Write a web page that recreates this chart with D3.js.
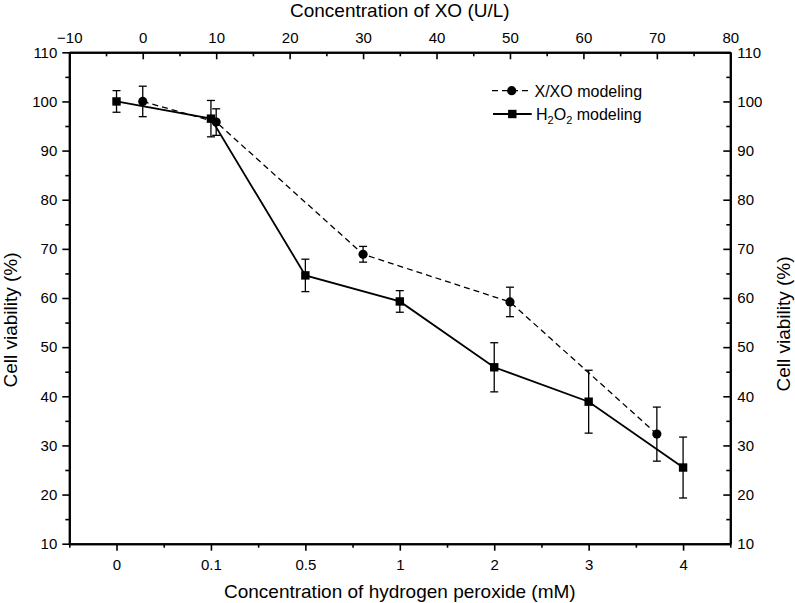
<!DOCTYPE html>
<html>
<head>
<meta charset="utf-8">
<script src="https://cdn.jsdelivr.net/npm/d3@7"></script>
<style>
  html, body { margin: 0; padding: 0; background: #fff; }
  svg { display: block; font-family: "Liberation Sans", Arial, sans-serif; }
</style>
</head>
<body>
<svg id="chart" width="795" height="603"></svg>
<script>
// ---- data ----
const categories = ["0", "0.1", "0.5", "1", "2", "3", "4"];           // H2O2 concentration (mM)
const h2o2Values = [100, 96.5, 64.6, 59.3, 45.9, 38.9, 25.5];
const h2o2Errors = [2.2, 3.7, 3.3, 2.2, 5.0, 6.4, 6.2];
const xoConc = [0, 10, 30, 50, 70];                                    // XO concentration (U/L)
const xoValues = [100, 95.8, 68.9, 59.2, 32.3];
const xoErrors = [3.1, 2.7, 1.6, 3.0, 5.5];
const yTicks = [10, 20, 30, 40, 50, 60, 70, 80, 90, 100, 110];
const topTicks = [-10, 0, 10, 20, 30, 40, 50, 60, 70, 80];
const legendLabels = ["X/XO modeling", "H2O2 modeling"];

// ---- layout ----
const L = 69.3, R = 730.3, T = 52.3, B = 543.7;
const svg = d3.select("#chart");

const y = d3.scaleLinear().domain([10, 110]).range([B, T]);
const xb = d3.scaleLinear().domain([-0.5, categories.length - 0.5]).range([L, R]);
const xt = d3.scaleLinear().domain([-10, 80]).range([L, R]);

const majorLen = 7, minorLen = 4;
const yMinor = d3.range(15, 110, 10);
const topMinor = d3.range(-5, 80, 10);
const bottomMinor = d3.range(-0.5, categories.length, 1);

function styleAxis(g) {
  g.select(".domain").attr("stroke", "#000").attr("stroke-width", 2);
  g.selectAll(".tick line").attr("stroke", "#000").attr("stroke-width", 1.6);
  g.selectAll(".tick text").attr("fill", "#000").style("font-size", "15px")
    .style("font-family", '"Liberation Sans", Arial, sans-serif');
}

// left axis (outward)
svg.append("g").attr("transform", `translate(${L},0)`)
  .call(d3.axisLeft(y).tickValues(yMinor).tickSize(minorLen).tickFormat("").tickSizeOuter(0)).call(styleAxis);
svg.append("g").attr("transform", `translate(${L},0)`)
  .call(d3.axisLeft(y).tickValues(yTicks).tickSize(majorLen).tickPadding(5).tickSizeOuter(0)).call(styleAxis);

// right axis (inward)
svg.append("g").attr("transform", `translate(${R},0)`)
  .call(d3.axisRight(y).tickValues(yMinor).tickSize(-minorLen).tickFormat("").tickSizeOuter(0)).call(styleAxis);
svg.append("g").attr("transform", `translate(${R},0)`)
  .call(d3.axisRight(y).tickValues(yTicks).tickSize(-majorLen).tickPadding(7).tickSizeOuter(0)).call(styleAxis);

// bottom axis (outward, categorical by index)
svg.append("g").attr("transform", `translate(0,${B})`)
  .call(d3.axisBottom(xb).tickValues(bottomMinor).tickSize(minorLen).tickFormat("").tickSizeOuter(0)).call(styleAxis);
svg.append("g").attr("transform", `translate(0,${B})`)
  .call(d3.axisBottom(xb).tickValues(d3.range(categories.length)).tickSize(majorLen).tickPadding(9)
    .tickFormat(i => categories[i]).tickSizeOuter(0)).call(styleAxis);

// top axis (inward)
svg.append("g").attr("transform", `translate(0,${T})`)
  .call(d3.axisTop(xt).tickValues(topMinor).tickSize(-minorLen).tickFormat("").tickSizeOuter(0)).call(styleAxis);
svg.append("g").attr("transform", `translate(0,${T})`)
  .call(d3.axisTop(xt).tickValues(topTicks).tickSize(-majorLen).tickPadding(9).tickFormat(d3.format("d")).tickSizeOuter(0)).call(styleAxis);

// axis titles
const titleFont = "19px";
svg.append("text").attr("x", (L + R) / 2).attr("y", 17).attr("text-anchor", "middle")
  .style("font-size", titleFont).text("Concentration of XO (U/L)");
svg.append("text").attr("x", (L + R) / 2).attr("y", 598).attr("text-anchor", "middle")
  .style("font-size", titleFont).text("Concentration of hydrogen peroxide (mM)");
svg.append("text").attr("transform", "translate(17,320) rotate(-90)").attr("text-anchor", "middle")
  .style("font-size", titleFont).text("Cell viability (%)");
svg.append("text").attr("transform", "translate(790,324) rotate(-90)").attr("text-anchor", "middle")
  .style("font-size", titleFont).text("Cell viability (%)");

// ---- series ----
const h2o2 = categories.map((c, i) => ({ x: xb(i), v: h2o2Values[i], e: h2o2Errors[i] }));
const xo = xoConc.map((c, i) => ({ x: xt(c), v: xoValues[i], e: xoErrors[i] }));

const line = d3.line().x(d => d.x).y(d => y(d.v));
const plot = svg.append("g");

plot.append("path").datum(xo).attr("d", line).attr("fill", "none")
  .attr("stroke", "#000").attr("stroke-width", 1.3).attr("stroke-dasharray", "6,4");
plot.append("path").datum(h2o2).attr("d", line).attr("fill", "none")
  .attr("stroke", "#000").attr("stroke-width", 1.8);

function errorBars(data) {
  const cap = 4;
  const g = plot.append("g").attr("stroke", "#000").attr("stroke-width", 1.3);
  data.forEach(d => {
    const y1 = y(d.v + d.e), y2 = y(d.v - d.e);
    g.append("line").attr("x1", d.x).attr("x2", d.x).attr("y1", y1).attr("y2", y2);
    g.append("line").attr("x1", d.x - cap).attr("x2", d.x + cap).attr("y1", y1).attr("y2", y1);
    g.append("line").attr("x1", d.x - cap).attr("x2", d.x + cap).attr("y1", y2).attr("y2", y2);
  });
}
errorBars(xo);
errorBars(h2o2);

plot.selectAll("circle.xo").data(xo).join("circle").attr("class", "xo")
  .attr("cx", d => d.x).attr("cy", d => y(d.v)).attr("r", 4.6).attr("fill", "#000");
plot.selectAll("rect.h2o2").data(h2o2).join("rect").attr("class", "h2o2")
  .attr("x", d => d.x - 4.2).attr("y", d => y(d.v) - 4.2).attr("width", 8.4).attr("height", 8.4).attr("fill", "#000");

// ---- legend ----
const lg = svg.append("g").style("font-size", "16px");
// row 1: X/XO
lg.append("line").attr("x1", 492).attr("x2", 529).attr("y1", 90.7).attr("y2", 90.7)
  .attr("stroke", "#000").attr("stroke-width", 1.3).attr("stroke-dasharray", "6,4");
lg.append("circle").attr("cx", 511.7).attr("cy", 90.7).attr("r", 4.6).attr("fill", "#000");
lg.append("text").attr("x", 534.5).attr("y", 96.5).text(legendLabels[0]);
// row 2: H2O2
lg.append("line").attr("x1", 493).attr("x2", 531.7).attr("y1", 114).attr("y2", 114)
  .attr("stroke", "#000").attr("stroke-width", 1.8);
lg.append("rect").attr("x", 512.3 - 4.2).attr("y", 114 - 4.2).attr("width", 8.4).attr("height", 8.4).attr("fill", "#000");
const t2 = lg.append("text").attr("x", 536).attr("y", 119.8);
t2.append("tspan").text("H");
t2.append("tspan").attr("dy", 4).style("font-size", "11px").text("2");
t2.append("tspan").attr("dy", -4).text("O");
t2.append("tspan").attr("dy", 4).style("font-size", "11px").text("2");
t2.append("tspan").attr("dy", -4).text(" modeling");
</script>
</body>
</html>
